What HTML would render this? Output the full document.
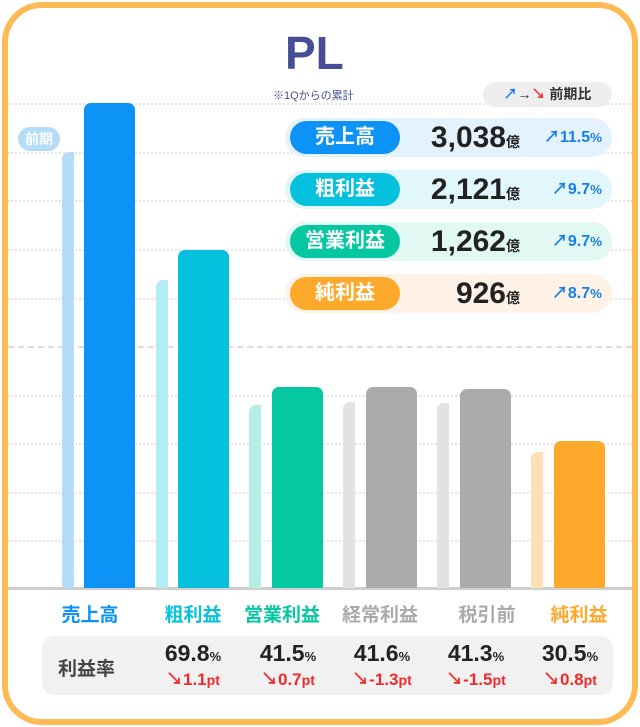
<!DOCTYPE html><html><head><meta charset="utf-8"><style>
body{margin:0;width:640px;height:727px;background:#fff;font-family:"Liberation Sans","Noto Sans CJK JP",sans-serif;overflow:hidden}
.frame{position:absolute;left:2px;top:2px;width:624px;height:711px;border:6px solid #fdbb55;border-radius:40px;background:#fff}
.abs{position:absolute}
.grid{position:absolute;left:8px;width:624px;border-top:2px dotted #e4e4e4}
.bar{position:absolute;border-radius:7px 7px 0 0}
.pv{position:absolute;border-radius:7px 0 0 0}
.lab{position:absolute;top:600px;width:100px;text-align:center;font-size:19px;font-weight:bold}
.card{position:absolute;left:285px;width:327px;height:39px;border-radius:20px}
.pill{position:absolute;left:5px;top:3px;width:110px;height:33px;border-radius:17px;color:#fff;font-weight:bold;font-size:20px;text-align:center;line-height:33px}
.val{position:absolute;right:92px;top:1px;font-size:30px;font-weight:bold;color:#222;line-height:37px}
.val small{font-size:14px}
.pct{position:absolute;right:10px;top:0;line-height:39px;color:#1a7fe8;font-weight:bold;font-size:16px}
.rt{position:absolute;top:640px;width:110px;text-align:center}
.rt b{font-size:23px;color:#222}.rt b small{font-size:13px}
.rt i{display:block;font-style:normal;color:#ef2b2b;font-weight:bold;font-size:17px;margin-top:-2px}
</style></head><body>
<div class="frame"></div>
<div class="grid" style="top:103px"></div><div class="grid" style="top:152px"></div><div class="grid" style="top:200px"></div><div class="grid" style="top:249px"></div><div class="grid" style="top:298px"></div><div class="grid" style="top:346px;border-top:2px dashed #ddd"></div><div class="grid" style="top:395px"></div><div class="grid" style="top:443px"></div><div class="grid" style="top:492px"></div><div class="grid" style="top:540px"></div>
<div class="abs" style="left:8px;top:587px;width:624px;height:3px;background:#cfcfcf"></div>
<div class="pv" style="left:62px;top:152px;width:12px;height:436px;background:#b5dcf8"></div>
<div class="bar" style="left:84px;top:103px;width:51px;height:485px;background:#0c93f5"></div>
<div class="pv" style="left:156px;top:280px;width:12px;height:308px;background:#b4ecf5"></div>
<div class="bar" style="left:178px;top:250px;width:51px;height:338px;background:#06c1dd"></div>
<div class="pv" style="left:249px;top:405px;width:12px;height:183px;background:#b5eee3"></div>
<div class="bar" style="left:272px;top:387px;width:51px;height:201px;background:#05c8a3"></div>
<div class="pv" style="left:343px;top:402px;width:12px;height:186px;background:#e2e2e2"></div>
<div class="bar" style="left:366px;top:387px;width:51px;height:201px;background:#ababab"></div>
<div class="pv" style="left:437px;top:403px;width:12px;height:185px;background:#e2e2e2"></div>
<div class="bar" style="left:460px;top:389px;width:51px;height:199px;background:#ababab"></div>
<div class="pv" style="left:531px;top:452px;width:12px;height:136px;background:#fde1b5"></div>
<div class="bar" style="left:554px;top:441px;width:51px;height:147px;background:#fdaa2c"></div>
<div class="abs" style="left:18px;top:127px;width:42px;height:24px;border-radius:12px;background:#b5dcf8;color:#fff;font-size:14px;font-weight:bold;text-align:center;line-height:24px">前期</div>
<div class="abs" style="left:285px;top:26px;font-size:46px;font-weight:bold;color:#454e97">PL</div>
<div class="abs" style="left:271px;top:87px;font-size:11px;color:#454e97;background:#fff;padding:0 2px">※1Qからの累計</div>
<div class="abs" style="left:483px;top:82px;width:129px;height:25px;border-radius:13px;background:#eee;font-size:14px;line-height:25px;color:#333;text-align:center;font-weight:bold"><span style="color:#1a7fe8">↗</span>→<span style="color:#ef2b2b">↘</span> 前期比</div>
<div class="card" style="top:118px;background:#e3f2fd"><div class="pill" style="background:#0c93f5">売上高</div><div class="val">3,038<small>億</small></div><div class="pct">↗11.5<small>%</small></div></div>
<div class="card" style="top:170px;background:#e1f7fb"><div class="pill" style="background:#06c1dd">粗利益</div><div class="val">2,121<small>億</small></div><div class="pct">↗9.7<small>%</small></div></div>
<div class="card" style="top:222px;background:#e1f8f3"><div class="pill" style="background:#05c8a3">営業利益</div><div class="val">1,262<small>億</small></div><div class="pct">↗9.7<small>%</small></div></div>
<div class="card" style="top:274px;background:#fef3e6"><div class="pill" style="background:#fdaa2c">純利益</div><div class="val">926<small>億</small></div><div class="pct">↗8.7<small>%</small></div></div>
<div class="lab" style="left:40px;color:#0c93f5">売上高</div>
<div class="lab" style="left:143px;color:#06c1dd">粗利益</div>
<div class="lab" style="left:232px;color:#05c8a3">営業利益</div>
<div class="lab" style="left:330px;color:#aaa">経常利益</div>
<div class="lab" style="left:437px;color:#aaa">税引前</div>
<div class="lab" style="left:529px;color:#fdaa2c">純利益</div>
<div class="abs" style="left:42px;top:636px;width:571px;height:59px;border-radius:12px;background:#f1f1f1"></div>
<div class="abs" style="left:58px;top:654px;font-size:19px;font-weight:bold;color:#444">利益率</div>
<div class="rt" style="left:138px"><b>69.8<small>%</small></b><i>↘1.1<small>pt</small></i></div>
<div class="rt" style="left:233px"><b>41.5<small>%</small></b><i>↘0.7<small>pt</small></i></div>
<div class="rt" style="left:327px"><b>41.6<small>%</small></b><i>↘-1.3<small>pt</small></i></div>
<div class="rt" style="left:421px"><b>41.3<small>%</small></b><i>↘-1.5<small>pt</small></i></div>
<div class="rt" style="left:515px"><b>30.5<small>%</small></b><i>↘0.8<small>pt</small></i></div>
</body></html>
